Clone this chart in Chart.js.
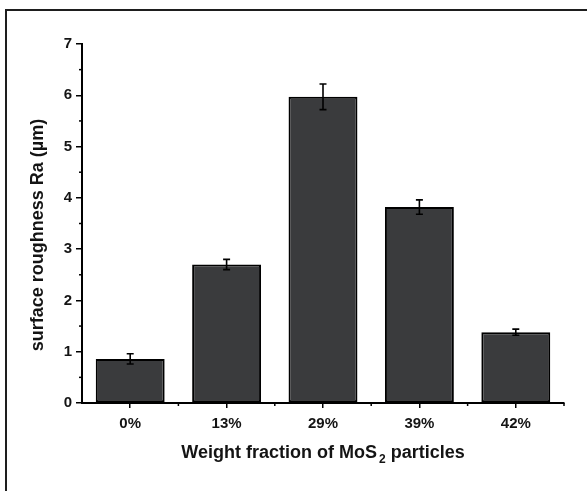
<!DOCTYPE html>
<html>
<head>
<meta charset="utf-8">
<script src="https://cdn.jsdelivr.net/npm/chart.js@4/dist/chart.umd.min.js"></script>
<style>
  html, body { margin: 0; padding: 0; background: #fff; overflow: hidden; }
  #wrap { position: relative; width: 587px; height: 491px; overflow: hidden; background: #fff; }
  #frame { position: absolute; left: 5px; top: 9px; width: 640px; height: 540px; border: 2.5px solid #1e1e1e; box-sizing: border-box; }
  canvas { position: absolute; left: 0; top: 0; }
</style>
</head>
<body>
<div id="wrap">
  <div id="frame"></div>
  <canvas id="c" width="587" height="491"></canvas>
</div>
<script>
const categories = ["0%", "13%", "29%", "39%", "42%"];
const roughness = [0.86, 2.70, 5.97, 3.82, 1.38];
const errors = [0.10, 0.10, 0.25, 0.14, 0.06];
const yTicks = [0, 1, 2, 3, 4, 5, 6, 7];
const xTitleParts = ["Weight fraction of MoS", "2", " particles"];
const yTitle = "surface roughness Ra (\u00b5m)";

const FONT = "'Liberation Sans', Arial, sans-serif";
const INK = "#141414";

const extras = {
  id: "extras",
  afterDatasetsDraw(chart) {
    const ctx = chart.ctx;
    const y = chart.scales.y;
    const x = chart.scales.x;
    const meta = chart.getDatasetMeta(0);
    ctx.save();
    // error bars
    ctx.strokeStyle = "#000";
    ctx.lineWidth = 1.6;
    meta.data.forEach((bar, i) => {
      const cx = bar.x;
      const t = y.getPixelForValue(roughness[i] + errors[i]);
      const b = y.getPixelForValue(roughness[i] - errors[i]);
      ctx.beginPath();
      ctx.moveTo(cx, t); ctx.lineTo(cx, b);
      ctx.moveTo(cx - 3.5, t); ctx.lineTo(cx + 3.5, t);
      ctx.moveTo(cx - 3.5, b); ctx.lineTo(cx + 3.5, b);
      ctx.stroke();
    });
    // minor ticks on y (half units)
    ctx.lineWidth = 1.5;
    for (let k = 0; k < yTicks.length - 1; k++) {
      const py = y.getPixelForValue(yTicks[k] + 0.5);
      ctx.beginPath();
      ctx.moveTo(y.right - 3, py); ctx.lineTo(y.right + 1, py);
      ctx.stroke();
    }
    // minor ticks on x (category boundaries)
    const step = (x.right - x.left) / categories.length;
    for (let k = 1; k <= categories.length; k++) {
      const px = x.left + k * step;
      ctx.beginPath();
      ctx.moveTo(px, x.top); ctx.lineTo(px, x.top + 3);
      ctx.stroke();
    }
    // x-axis title with subscript
    const big = "bold 18px " + FONT;
    const small = "bold 12px " + FONT;
    ctx.fillStyle = INK;
    ctx.textBaseline = "alphabetic";
    ctx.textAlign = "left";
    ctx.font = big;
    const w0 = ctx.measureText(xTitleParts[0]).width;
    const w2 = ctx.measureText(xTitleParts[2]).width;
    ctx.font = small;
    const w1 = ctx.measureText(xTitleParts[1]).width;
    const gap = 2;
    const total = w0 + gap + w1 + w2;
    const cx = (chart.chartArea.left + chart.chartArea.right) / 2;
    let px = cx - total / 2;
    const base = 458;
    ctx.font = big;
    ctx.fillText(xTitleParts[0], px, base);
    px += w0 + gap;
    ctx.font = small;
    ctx.fillText(xTitleParts[1], px, base + 5);
    px += w1;
    ctx.font = big;
    ctx.fillText(xTitleParts[2], px, base);
    // y-axis title
    ctx.save();
    ctx.translate(38, 235);
    ctx.rotate(-Math.PI / 2);
    ctx.font = big;
    ctx.textAlign = "center";
    ctx.textBaseline = "middle";
    ctx.fillText(yTitle, 0, 0);
    ctx.restore();
    ctx.restore();
  }
};

new Chart(document.getElementById("c"), {
  type: "bar",
  data: {
    labels: categories,
    datasets: [{
      data: roughness,
      backgroundColor: "#3a3b3d",
      borderColor: "#000",
      borderWidth: 2,
      borderSkipped: false,
      categoryPercentage: 1.0,
      barPercentage: 0.715
    }]
  },
  options: {
    responsive: false,
    animation: false,
    devicePixelRatio: 1,
    layout: { padding: { left: 28, top: 44, right: 23, bottom: 0 } },
    plugins: { legend: { display: false }, tooltip: { enabled: false } },
    scales: {
      x: {
        offset: true,
        grid: { display: true, drawOnChartArea: false, offset: false, tickLength: 5, color: "#000", lineWidth: 1.5 },
        border: { display: true, color: "#000", width: 2 },
        ticks: { color: INK, font: { family: FONT, size: 15, weight: "bold" }, padding: 7 },
        title: { display: false },
        afterFit(s) { s.height = 88; }
      },
      y: {
        min: 0, max: 7,
        afterBuildTicks(s) { s.ticks = yTicks.map(v => ({ value: v })); },
        grid: { display: true, drawOnChartArea: false, tickLength: 6, color: "#000", lineWidth: 1.5 },
        border: { display: true, color: "#000", width: 2 },
        ticks: { color: INK, font: { family: FONT, size: 15, weight: "bold" }, padding: 4 },
        title: { display: false },
        afterFit(s) { s.width = 54; }
      }
    }
  },
  plugins: [extras]
});
</script>
</body>
</html>
